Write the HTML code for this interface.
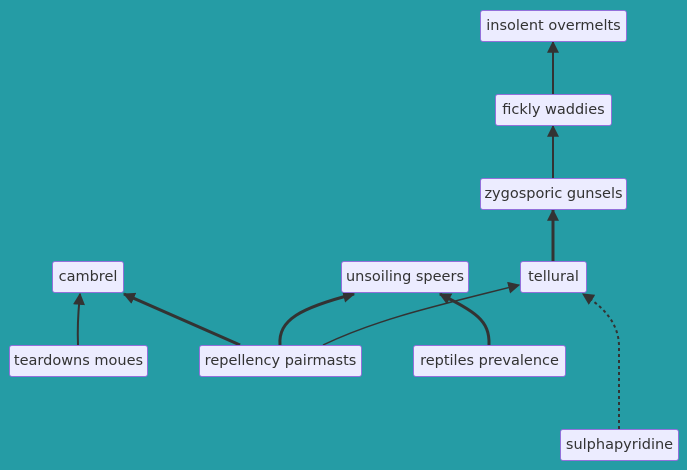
<!DOCTYPE html>
<html><head><style>
body{margin:0;width:687px;height:470px;background:#259ca5;overflow:hidden;position:relative;font-family:"DejaVu Sans","Liberation Sans",sans-serif;}
.n{position:absolute;box-sizing:border-box;background:#ececff;border:1px solid #9370db;border-radius:3px;color:#333;font-size:14.5px;display:flex;align-items:center;justify-content:center;white-space:nowrap;height:32px;}
svg{position:absolute;left:0;top:0;}
</style></head><body>
<svg width="687" height="470">
<defs><marker id="a" viewBox="0 0 10 10" refX="9" refY="5" markerWidth="6" markerHeight="6" markerUnits="userSpaceOnUse" orient="auto"><path d="M0,0L10,5L0,10z" fill="#333"/></marker>
<marker id="b" viewBox="0 0 10 10" refX="9" refY="5" markerWidth="12" markerHeight="12" markerUnits="userSpaceOnUse" orient="auto"><path d="M0,0L10,5L0,10z" fill="#333"/></marker></defs>
<g fill="none" stroke="#333">
<path d="M78,345 C77,320 79,305 80,294" stroke-width="2" marker-end="url(#b)"/>
<path d="M240,345 L124,294" stroke-width="3" marker-end="url(#b)"/>
<path d="M280,345 C278,320 300,308 354,294" stroke-width="3" marker-end="url(#b)"/>
<path d="M323,345 C380,318 440,305 519,285" stroke-width="1.5" marker-end="url(#b)"/>
<path d="M489,345 C490,320 475,312 440,294" stroke-width="3" marker-end="url(#b)"/>
<path d="M619,429 L619,345 C618,320 600,305 583,294" stroke-width="2" stroke-dasharray="3,3" marker-end="url(#b)"/>
<path d="M553,261 L553,210" stroke-width="3" marker-end="url(#b)"/>
<path d="M553,178 L553,126" stroke-width="2" marker-end="url(#b)"/>
<path d="M553,94 L553,42" stroke-width="2" marker-end="url(#b)"/>
</g></svg>
<div class="n" style="left:480px;top:10px;width:147px">insolent overmelts</div>
<div class="n" style="left:495px;top:94px;width:117px">fickly waddies</div>
<div class="n" style="left:480px;top:178px;width:147px">zygosporic gunsels</div>
<div class="n" style="left:52px;top:261px;width:72px">cambrel</div>
<div class="n" style="left:341px;top:261px;width:128px">unsoiling speers</div>
<div class="n" style="left:520px;top:261px;width:67px">tellural</div>
<div class="n" style="left:9px;top:345px;width:139px">teardowns moues</div>
<div class="n" style="left:199px;top:345px;width:163px">repellency pairmasts</div>
<div class="n" style="left:413px;top:345px;width:153px">reptiles prevalence</div>
<div class="n" style="left:560px;top:429px;width:119px">sulphapyridine</div>
</body></html>
